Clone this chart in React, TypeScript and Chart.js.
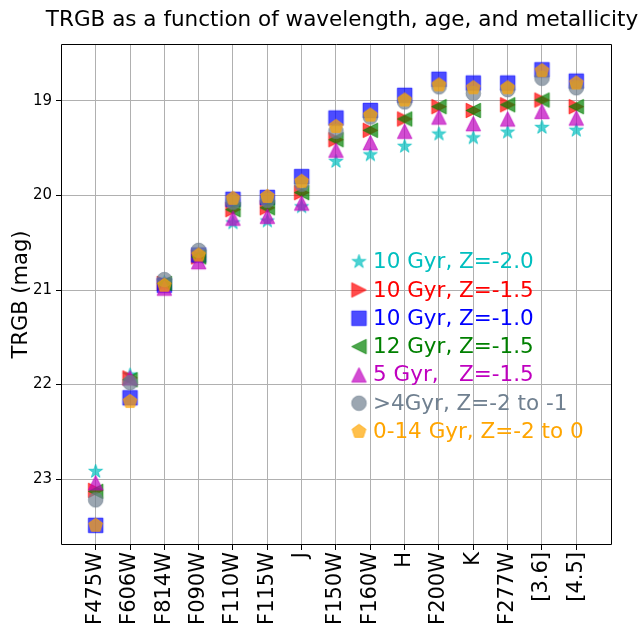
import React, { useEffect, useRef } from 'react';
import { Chart, registerables } from 'chart.js';

Chart.register(...registerables);

const FONT = "'DejaVu Sans', 'Liberation Sans', sans-serif";

const categories = ['F475W', 'F606W', 'F814W', 'F090W', 'F110W', 'F115W', 'J', 'F150W', 'F160W', 'H', 'F200W', 'K', 'F277W', '[3.6]', '[4.5]'];
const yTicks = [19, 20, 21, 22, 23];

const seriesLabels = ['10 Gyr, Z=-2.0', '10 Gyr, Z=-1.5', '10 Gyr, Z=-1.0', '12 Gyr, Z=-1.5', '5 Gyr,   Z=-1.5', '>4Gyr, Z=-2 to -1', '0-14 Gyr, Z=-2 to 0'];
const seriesShapes = ['star', 'tri-right', 'square', 'tri-left', 'tri-up', 'circle', 'pentagon'];
const seriesRGB = ['0,191,191', '255,0,0', '0,0,255', '0,128,0', '191,0,191', '112,128,144', '255,165,0'];
const seriesTextColors = ['#00BFBF', '#FF0000', '#0000FF', '#008000', '#BF00BF', '#708090', '#FFA500'];

const star10z20 = [22.92, 21.9, 20.92, 20.65, 20.29, 20.27, 20.12, 19.64, 19.57, 19.48, 19.35, 19.39, 19.33, 19.28, 19.31];
const tri10z15 = [23.12, 21.93, 20.93, 20.65, 20.15, 20.13, 19.97, 19.41, 19.31, 19.19, 19.06, 19.1, 19.04, 18.99, 19.06];
const sq10z10 = [23.49, 22.14, 20.95, 20.63, 20.04, 20.02, 19.8, 19.18, 19.1, 18.94, 18.77, 18.81, 18.81, 18.67, 18.79];
const tri12z15 = [23.13, 21.95, 20.93, 20.65, 20.15, 20.13, 19.97, 19.41, 19.31, 19.19, 19.06, 19.1, 19.04, 18.99, 19.06];
const tri5z15 = [23.04, 21.93, 20.98, 20.7, 20.24, 20.22, 20.08, 19.52, 19.44, 19.32, 19.17, 19.24, 19.19, 19.11, 19.18];
const circOld = [23.22, 21.98, 20.89, 20.58, 20.07, 20.05, 19.88, 19.32, 19.17, 19.01, 18.85, 18.92, 18.88, 18.76, 18.86];
const pentAll = [23.49, 22.18, 20.95, 20.63, 20.03, 20.01, 19.85, 19.27, 19.15, 18.99, 18.83, 18.86, 18.86, 18.68, 18.81];

const seriesValues = [star10z20, tri10z15, sq10z10, tri12z15, tri5z15, circOld, pentAll];

const X_MIN = -1.01;
const X_MAX = 15.04;
const Y_MIN = 18.397;
const Y_MAX = 23.698;

const MARKER_SIZE = 14.5;
const ALPHA = 0.7;

function makeMarker(shape: string, rgb: string, size: number): HTMLCanvasElement {
  const pad = 2;
  const dim = Math.ceil(size + pad * 2);
  const c = document.createElement('canvas');
  c.width = dim;
  c.height = dim;
  const ctx = c.getContext('2d')!;
  const cx = dim / 2;
  const cy = dim / 2;
  const r = size / 2;
  ctx.beginPath();
  if (shape === 'star') {
    for (let k = 0; k < 10; k++) {
      const a = -Math.PI / 2 + (k * Math.PI) / 5;
      const rad = k % 2 === 0 ? r : r * 0.381966;
      const px = cx + rad * Math.cos(a);
      const py = cy + rad * Math.sin(a);
      if (k === 0) ctx.moveTo(px, py);
      else ctx.lineTo(px, py);
    }
  } else if (shape === 'square') {
    ctx.rect(cx - r, cy - r, size, size);
  } else if (shape === 'circle') {
    ctx.arc(cx, cy, r, 0, Math.PI * 2);
  } else if (shape === 'tri-up') {
    ctx.moveTo(cx, cy - r);
    ctx.lineTo(cx - r, cy + r);
    ctx.lineTo(cx + r, cy + r);
  } else if (shape === 'tri-right') {
    ctx.moveTo(cx + r, cy);
    ctx.lineTo(cx - r, cy - r);
    ctx.lineTo(cx - r, cy + r);
  } else if (shape === 'tri-left') {
    ctx.moveTo(cx - r, cy);
    ctx.lineTo(cx + r, cy - r);
    ctx.lineTo(cx + r, cy + r);
  } else if (shape === 'pentagon') {
    for (let k = 0; k < 5; k++) {
      const a = -Math.PI / 2 + (k * 2 * Math.PI) / 5;
      const px = cx + r * Math.cos(a);
      const py = cy + r * Math.sin(a);
      if (k === 0) ctx.moveTo(px, py);
      else ctx.lineTo(px, py);
    }
  }
  ctx.closePath();
  ctx.fillStyle = `rgba(${rgb},${ALPHA})`;
  ctx.fill();
  ctx.strokeStyle = `rgba(${rgb},${ALPHA})`;
  ctx.lineWidth = 1;
  ctx.stroke();
  return c;
}

const W = 642;
const H = 627;

export default function App() {
  const ref = useRef<HTMLCanvasElement | null>(null);

  useEffect(() => {
    const canvas = ref.current;
    if (!canvas) return;
    const markers = seriesShapes.map((s, i) => makeMarker(s, seriesRGB[i], MARKER_SIZE));
    const n = seriesLabels.length;

    const datasets = seriesLabels.map((label, i) => ({
      label,
      data: seriesValues[i].map((v, j) => ({ x: j, y: v })),
      pointStyle: markers[i] as any,
      pointRadius: MARKER_SIZE / 2,
      pointHoverRadius: MARKER_SIZE / 2,
      showLine: false,
      order: n - 1 - i,
    }));

    const decor = {
      id: 'decor',
      afterDraw(chart: any) {
        const ctx = chart.ctx as CanvasRenderingContext2D;
        const xs = chart.scales.x;
        const ys = chart.scales.y;
        const l = Math.round(xs.getPixelForValue(X_MIN)) + 0.5;
        const r = Math.round(xs.getPixelForValue(X_MAX)) - 0.5;
        const t = Math.round(ys.getPixelForValue(Y_MIN)) + 0.5;
        const b = Math.round(ys.getPixelForValue(Y_MAX)) - 0.5;
        ctx.save();
        // frame
        ctx.strokeStyle = '#000';
        ctx.lineWidth = 1;
        ctx.beginPath();
        ctx.moveTo(l, t);
        ctx.lineTo(r, t);
        ctx.lineTo(r, b);
        ctx.lineTo(l, b);
        ctx.closePath();
        ctx.stroke();
        // title
        ctx.fillStyle = '#000';
        ctx.font = `21.5px ${FONT}`;
        ctx.textAlign = 'center';
        ctx.textBaseline = 'alphabetic';
        ctx.fillText('TRGB as a function of wavelength, age, and metallicity', 342, 26);
        // y label
        ctx.save();
        ctx.translate(27, (t + b) / 2);
        ctx.rotate(-Math.PI / 2);
        ctx.textAlign = 'center';
        ctx.font = `21px ${FONT}`;
        ctx.fillText('TRGB (mag)', 0, 0);
        ctx.restore();
        // legend
        const legX = 359;
        const textX = 373;
        const legY0 = 261.7;
        const legDy = 28.3;
        ctx.font = `21.5px ${FONT}`;
        ctx.textAlign = 'left';
        ctx.textBaseline = 'middle';
        seriesLabels.forEach((lab, i) => {
          const y = legY0 + i * legDy;
          const m = markers[i];
          ctx.drawImage(m, legX - m.width / 2, y - m.height / 2);
          ctx.fillStyle = seriesTextColors[i];
          ctx.fillText(lab, textX, y + 1);
        });
        ctx.restore();
      },
    };

    const chart = new Chart(canvas, {
      type: 'scatter',
      data: { datasets: datasets as any },
      options: {
        animation: false,
        responsive: false,
        devicePixelRatio: 1,
        layout: { padding: { top: 44, right: 30, left: 0, bottom: 0 } },
        plugins: {
          legend: { display: false },
          tooltip: { enabled: false },
          title: { display: false },
        },
        scales: {
          x: {
            type: 'linear',
            min: X_MIN,
            max: X_MAX,
            afterBuildTicks: (scale: any) => {
              scale.ticks = categories.map((_, i) => ({ value: i }));
            },
            afterFit: (scale: any) => {
              scale.height = H - 545;
            },
            ticks: {
              autoSkip: false,
              maxRotation: 90,
              minRotation: 90,
              padding: 2,
              color: '#000',
              font: { family: FONT, size: 21 },
              callback: (v: any) => categories[Math.round(Number(v))] ?? '',
            },
            grid: { color: '#b0b0b0', lineWidth: 1, tickColor: '#000', tickLength: 5 },
            border: { display: false },
          },
          y: {
            type: 'linear',
            reverse: true,
            min: Y_MIN,
            max: Y_MAX,
            afterBuildTicks: (scale: any) => {
              scale.ticks = yTicks.map((v) => ({ value: v }));
            },
            afterFit: (scale: any) => {
              scale.width = 61;
            },
            ticks: {
              padding: 4,
              color: '#000',
              font: { family: FONT, size: 15 },
              callback: (v: any) => String(v),
            },
            grid: { color: '#b0b0b0', lineWidth: 1, tickColor: '#000', tickLength: 5 },
            border: { display: false },
          },
        },
      },
      plugins: [decor],
    });

    return () => {
      chart.destroy();
    };
  }, []);

  return (
    <div style={{ position: 'fixed', left: 0, top: 0, width: W, height: H, background: '#fff' }}>
      <canvas ref={ref} width={W} height={H} style={{ display: 'block', width: W, height: H }} />
    </div>
  );
}
